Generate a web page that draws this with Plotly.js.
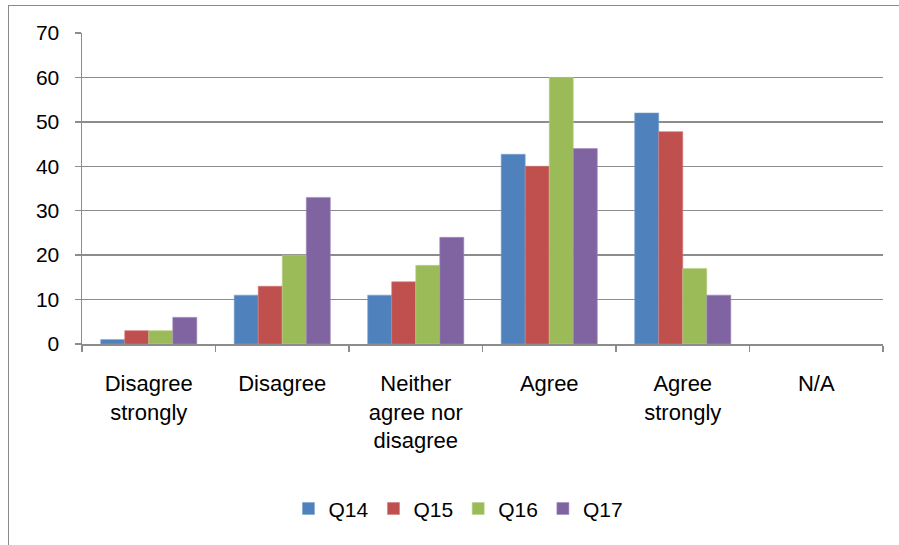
<!DOCTYPE html>
<html>
<head>
<meta charset="utf-8">
<script src="https://cdn.plot.ly/plotly-3.0.1.min.js"></script>
<style>
  html, body { margin: 0; padding: 0; background: #ffffff; }
  #wrap { position: relative; width: 899px; height: 545px; overflow: hidden; }
  #frame { position: absolute; left: 8px; top: 5px; width: 1000px; height: 1000px;
           border: 1px solid #8a8a8a; box-sizing: border-box; }
  #chart { position: absolute; left: 0; top: 0; width: 899px; height: 545px; }
</style>
</head>
<body>
<div id="wrap">
  <div id="frame"></div>
  <div id="chart"></div>
</div>
<script>
// Response categories (x axis)
const categories = [
  "Disagree<br>strongly",
  "Disagree",
  "Neither<br>agree nor<br>disagree",
  "Agree",
  "Agree<br>strongly",
  "N/A"
];

// Series names
const seriesNames = ["Q14", "Q15", "Q16", "Q17"];

// Values per question, one entry per category
const q14 = [1, 11, 11, 42.7, 52, 0];
const q15 = [3, 13, 14, 40, 47.8, 0];
const q16 = [3, 20, 17.7, 60, 17, 0];
const q17 = [6, 33, 24, 44, 11, 0];

// Y-axis ticks
const yTicks = [0, 10, 20, 30, 40, 50, 60, 70];

const seriesValues = [q14, q15, q16, q17];
const seriesColors = ["#4F81BD", "#C0504D", "#9BBB59", "#8064A2"];
const edgeColors = ["#7da2d0", "#d27c7a", "#b9d08c", "#a08bbd"];

const FONT = "Liberation Sans, Arial, sans-serif";
const GRID = "#8c8c8c";

// Empty bars get no outline so nothing shows on the baseline
const traces = seriesNames.map((name, i) => ({
  type: "bar",
  name: name,
  x: categories,
  y: seriesValues[i],
  marker: {
    color: seriesColors[i],
    line: { width: seriesValues[i].map(v => (v > 0 ? 0.6 : 0)), color: edgeColors[i] }
  },
  hoverinfo: "x+y+name"
}));

const layout = {
  width: 899,
  height: 545,
  margin: { l: 82, r: 16, t: 33, b: 201 },
  paper_bgcolor: "rgba(0,0,0,0)",
  plot_bgcolor: "rgba(0,0,0,0)",
  barmode: "group",
  bargap: 0.28,
  bargroupgap: 0,
  font: { family: FONT, color: "#000000", size: 20 },
  xaxis: {
    type: "category",
    showline: true,
    linecolor: GRID,
    linewidth: 1.5,
    ticks: "outside",
    tickson: "boundaries",
    ticklen: 6,
    tickcolor: GRID,
    tickwidth: 1.5,
    ticklabelstandoff: 19,
    tickfont: { family: FONT, size: 22, color: "#000000" },
    showgrid: false,
    zeroline: false
  },
  yaxis: {
    range: [0, 70],
    tickvals: yTicks,
    ticktext: yTicks.map(String),
    showline: true,
    linecolor: GRID,
    linewidth: 1.5,
    ticks: "outside",
    ticklen: 6,
    tickcolor: GRID,
    tickwidth: 1.5,
    ticklabelstandoff: 11,
    tickfont: { family: FONT, size: 21, color: "#000000" },
    showgrid: true,
    gridcolor: GRID,
    gridwidth: 1.5,
    zeroline: false
  },
  legend: {
    orientation: "h",
    x: 0.47,
    xanchor: "center",
    y: -0.53,
    yanchor: "middle",
    font: { family: FONT, size: 21, color: "#000000" },
    itemwidth: 30,
    bgcolor: "rgba(0,0,0,0)"
  },
  showlegend: true
};

Plotly.newPlot("chart", traces, layout, { displayModeBar: false, staticPlot: true });
</script>
</body>
</html>
